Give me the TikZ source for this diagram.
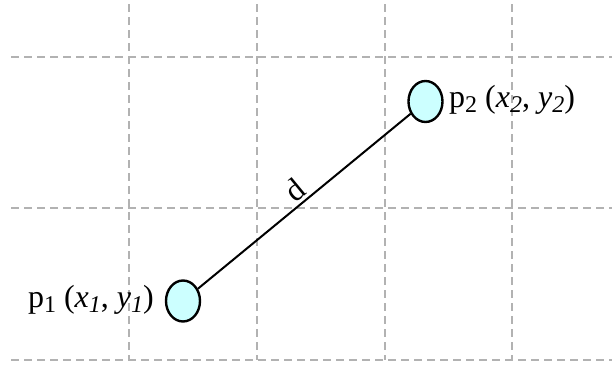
\documentclass[tikz,border=0pt]{standalone}
\usepackage{fontspec}
\setmainfont{Liberation Serif}
\usetikzlibrary{shapes.geometric}
\definecolor{ptfill}{RGB}{204,255,255}
\newcommand\mysub[1]{\raisebox{-0.3ex}{\fontsize{24}{24}\selectfont #1}}
\begin{document}
\begin{tikzpicture}[x=1pt,y=-1pt,
  gridline/.style={draw=gray!60, line width=1.4pt, dash pattern=on 8pt off 5pt},
  pt/.style={ellipse, draw=black, line width=2.4pt, fill=ptfill, minimum width=34pt, minimum height=41pt, inner sep=0pt},
  lbl/.style={font=\fontsize{32}{34}\selectfont, inner sep=0pt}]
\useasboundingbox (0,0) rectangle (614,367);
\foreach \x in {129,257,385,512} \draw[gridline] (\x,4) -- (\x,360);
\foreach \y in {57,208,360} \draw[gridline] (11,\y) -- (612,\y);
\node[pt] (p1) at (183,301) {};
\node[pt] (p2) at (425.5,101.5) {};
\draw[line width=2pt] (p1) -- (p2) node[midway, above=2pt, sloped, lbl] (d) {d};
\node[lbl, anchor=east] (l1) at (154,300) {p\mysub{1} (\textit{x}\mysub{\textit{1}}, \textit{y}\mysub{\textit{1}})};
\node[lbl, anchor=west] (l2) at (449,100) {p\mysub{2} (\textit{x}\mysub{\textit{2}}, \textit{y}\mysub{\textit{2}})};
\end{tikzpicture}
\end{document}
